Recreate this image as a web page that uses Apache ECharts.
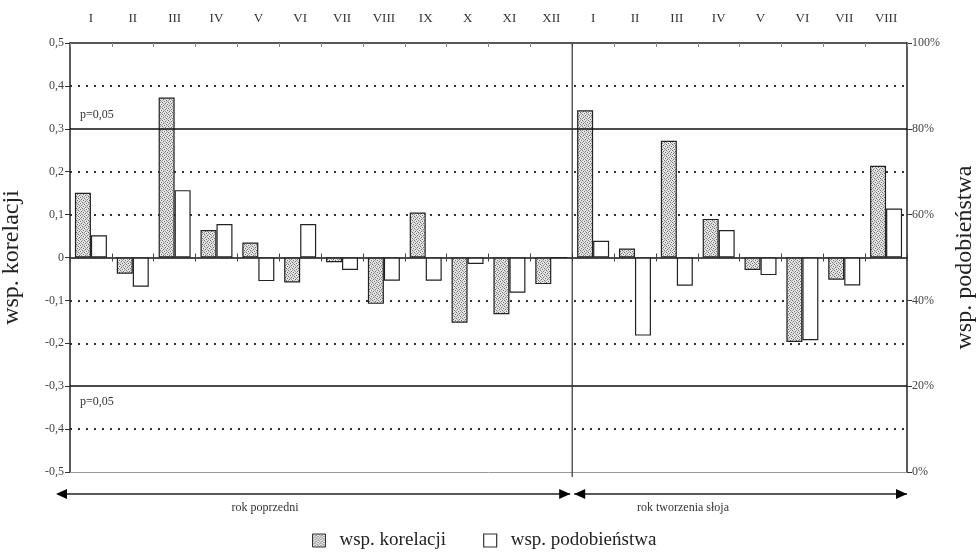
<!DOCTYPE html>
<html>
<head>
<meta charset="utf-8">
<script src="https://cdn.jsdelivr.net/npm/echarts@6/dist/echarts.min.js"></script>
<style>
  html, body { margin: 0; padding: 0; background: #fff; }
  #chart { width: 976px; height: 552px; }
</style>
</head>
<body>
<div id="chart"></div>
<script>
// Months of the previous year (I–XII) followed by the year of ring formation (I–VIII)
const months = ['I','II','III','IV','V','VI','VII','VIII','IX','X','XI','XII',
                'I','II','III','IV','V','VI','VII','VIII'];

// Correlation coefficient per month
const korelacja = [0.151, -0.038, 0.373, 0.064, 0.035, -0.058, -0.011, -0.108, 0.105, -0.152, -0.132, -0.062,
                   0.343, 0.021, 0.272, 0.090, -0.029, -0.197, -0.052, 0.214];

// Similarity coefficient per month, in percent
const podobienstwo = [55.2, 43.2, 65.7, 57.8, 44.5, 57.8, 47.1, 44.6, 44.6, 48.5, 41.8, 50.0,
                      53.9, 31.8, 43.4, 56.4, 45.9, 30.7, 43.5, 61.4];

const leftTicks = [-0.5, -0.4, -0.3, -0.2, -0.1, 0, 0.1, 0.2, 0.3, 0.4, 0.5];
const rightTicks = [0, 20, 40, 60, 80, 100];
const prevYearCount = 12;

const SERIF = '"Liberation Serif", "DejaVu Serif", serif';

// Stippled fill for the correlation bars
function stipple() {
  const c = document.createElement('canvas');
  c.width = 6; c.height = 6;
  const g = c.getContext('2d');
  g.fillStyle = '#e6e6e6';
  g.fillRect(0, 0, 6, 6);
  g.fillStyle = '#6a6a6a';
  [[0,0],[3,1],[1,3],[4,4],[2,5],[5,2]].forEach(([x, y]) => g.fillRect(x, y, 1, 1));
  g.fillStyle = '#a0a0a0';
  [[1,1],[4,0],[0,4],[3,3],[5,5],[2,2]].forEach(([x, y]) => g.fillRect(x, y, 1, 1));
  return c;
}
const dotFill = { image: stipple(), repeat: 'repeat' };

// The similarity scale (0–100 %) spans the same height as the correlation scale (-0.5…0.5),
// so 50 % lies on the zero line and similarity bars hang from there.
const podobOnLeft = podobienstwo.map(p => (p - 50) / 100);

const fmtLeft = v => (Math.abs(v) < 1e-9 ? '0' : v.toFixed(1).replace('.', ','));

// dotted grid lines everywhere except where solid reference lines are drawn
const gridColors = leftTicks.map(v => {
  const a = Math.abs(v);
  return (Math.abs(a - 0.3) < 1e-9 || a < 1e-9 || Math.abs(a - 0.5) < 1e-9) ? 'rgba(0,0,0,0)' : '#333';
});

const chart = echarts.init(document.getElementById('chart'), null, { renderer: 'canvas' });

const option = {
  animation: false,
  grid: { left: 70, right: 69, top: 43, bottom: 80, containLabel: false, outerBoundsMode: 'none' },
  textStyle: { fontFamily: SERIF },
  legend: {
    left: 312, top: 531, padding: 0,
    icon: 'rect',
    itemWidth: 13, itemHeight: 13, itemGap: 37,
    textStyle: { fontFamily: SERIF, fontSize: 19, color: '#222', padding: [0, 0, 0, 9] },
    data: [
      { name: 'wsp. korelacji', itemStyle: { color: dotFill, borderColor: '#333', borderWidth: 1 } },
      { name: 'wsp. podobieństwa', itemStyle: { color: '#fff', borderColor: '#333', borderWidth: 1.2 } }
    ]
  },
  xAxis: [
    {
      // month labels along the top edge
      type: 'category', data: months, position: 'top',
      axisLine: { onZero: false, lineStyle: { color: '#222', width: 1.5 } },
      axisTick: { show: true, inside: true, length: 4, lineStyle: { color: '#888' } },
      axisLabel: { fontFamily: SERIF, fontSize: 13, color: '#333', margin: 18 },
      splitLine: { show: false }
    },
    {
      // zero line, ticks downward
      type: 'category', data: months, position: 'bottom',
      axisLine: { onZero: true, onZeroAxisIndex: 0, lineStyle: { color: '#111', width: 1.5 } },
      axisTick: { show: true, inside: false, length: 4, lineStyle: { color: '#444' } },
      axisLabel: { show: false }, splitLine: { show: false }
    },
    {
      // zero line, ticks upward
      type: 'category', data: months, position: 'bottom',
      axisLine: { show: false, onZero: true, onZeroAxisIndex: 2 },
      axisTick: { show: true, inside: true, length: 4, lineStyle: { color: '#444' } },
      axisLabel: { show: false }, splitLine: { show: false }
    }
  ],
  yAxis: [
    {
      type: 'value', min: -0.5, max: 0.5, interval: 0.1, position: 'left',
      name: 'wsp. korelacji', nameLocation: 'middle', nameGap: 46, nameRotate: 90,
      nameTextStyle: { fontFamily: SERIF, fontSize: 24, color: '#222' },
      axisLine: { show: true, lineStyle: { color: '#222', width: 1.5 } },
      axisTick: { show: true, length: 5, lineStyle: { color: '#333' } },
      axisLabel: { fontFamily: SERIF, fontSize: 12, color: '#444', margin: 6, formatter: fmtLeft },
      splitLine: { show: true, lineStyle: { color: gridColors, type: [2, 6], width: 2 } }
    },
    {
      type: 'value', min: 0, max: 100, interval: 20, position: 'right',
      name: 'wsp. podobieństwa', nameLocation: 'middle', nameGap: 46, nameRotate: 90,
      nameTextStyle: { fontFamily: SERIF, fontSize: 24, color: '#222' },
      axisLine: { show: true, lineStyle: { color: '#222', width: 1.5 } },
      axisTick: { show: true, length: 5, lineStyle: { color: '#333' } },
      axisLabel: { fontFamily: SERIF, fontSize: 12, color: '#444', margin: 5, formatter: '{value}%' },
      splitLine: { show: false }
    },
    {
      type: 'value', min: -0.5, max: 0.5, show: false
    }
  ],
  series: [
    {
      name: 'wsp. korelacji', type: 'bar', xAxisIndex: 0, yAxisIndex: 0,
      barWidth: 16, barGap: '0%',
      itemStyle: { color: dotFill, borderColor: '#222', borderWidth: 1.2 },
      data: korelacja
    },
    {
      name: 'wsp. podobieństwa', type: 'bar', xAxisIndex: 0, yAxisIndex: 0,
      barWidth: 16, barGap: '0%',
      itemStyle: { color: '#fff', borderColor: '#222', borderWidth: 1.2 },
      data: podobOnLeft,
      markLine: {
        silent: true, symbol: 'none',
        label: { show: false },
        data: [
          { yAxis: 0.3, lineStyle: { color: '#111', width: 1.5, type: 'solid' },
            label: { show: true, position: 'insideStartTop', formatter: 'p=0,05',
                     fontFamily: SERIF, fontSize: 12, color: '#333', distance: [10, 8] } },
          { yAxis: -0.3, lineStyle: { color: '#111', width: 1.5, type: 'solid' },
            label: { show: true, position: 'insideStartBottom', formatter: 'p=0,05',
                     fontFamily: SERIF, fontSize: 12, color: '#333', distance: [10, 10] } },
          { yAxis: -0.5, lineStyle: { color: '#999', width: 1, type: 'solid' } }
        ]
      }
    }
  ]
};

chart.setOption(option);

// Period divider, span arrows and their captions, placed from the category scale
const xAt = i => chart.convertToPixel({ xAxisIndex: 0 }, i);
const step = xAt(1) - xAt(0);
const x0 = xAt(0) - step / 2;
const xSplit = xAt(prevYearCount) - step / 2;
const xEnd = xAt(months.length - 1) + step / 2;
const yTop = chart.convertToPixel({ yAxisIndex: 0 }, 0.5);
const yBot = chart.convertToPixel({ yAxisIndex: 0 }, -0.5);
const yArrow = yBot + 22;

function arrowHead(tipX, dir) {
  const len = 11, half = 5;
  return {
    type: 'polygon',
    shape: { points: [[tipX, yArrow], [tipX - dir * len, yArrow - half], [tipX - dir * len, yArrow + half]] },
    style: { fill: '#000' }, z: 10
  };
}

chart.setOption({
  graphic: [
    { type: 'line', shape: { x1: xSplit, y1: yTop, x2: xSplit, y2: yBot + 5 },
      style: { stroke: '#333', lineWidth: 1.2 }, z: 10 },
    { type: 'line', shape: { x1: x0 - 12, y1: yArrow, x2: xSplit - 2, y2: yArrow },
      style: { stroke: '#222', lineWidth: 1.5 }, z: 10 },
    { type: 'line', shape: { x1: xSplit + 2, y1: yArrow, x2: xEnd, y2: yArrow },
      style: { stroke: '#222', lineWidth: 1.5 }, z: 10 },
    arrowHead(x0 - 14, -1),
    arrowHead(xSplit - 2, 1),
    arrowHead(xSplit + 2, -1),
    arrowHead(xEnd, 1),
    { type: 'text', x: 265, y: yArrow + 14,
      style: { text: 'rok poprzedni', font: '12px ' + SERIF, fill: '#333', align: 'center', verticalAlign: 'middle' }, z: 10 },
    { type: 'text', x: 683, y: yArrow + 14,
      style: { text: 'rok tworzenia słoja', font: '12px ' + SERIF, fill: '#333', align: 'center', verticalAlign: 'middle' }, z: 10 }
  ]
});
</script>
</body>
</html>
